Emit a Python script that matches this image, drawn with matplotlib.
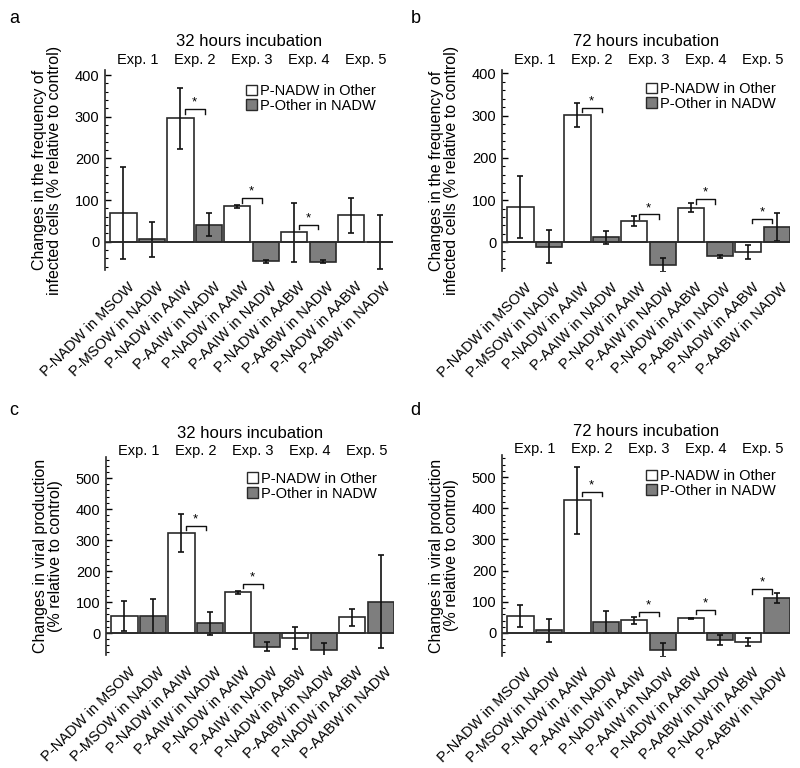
import numpy as np
import matplotlib
matplotlib.use("Agg")
import matplotlib.pyplot as plt
from matplotlib.patches import Patch

plt.rcParams["font.family"] = ["Liberation Sans", "DejaVu Sans"]

#DATA
labels = [
    "P-NADW in MSOW", "P-MSOW in NADW",
    "P-NADW in AAIW", "P-AAIW in NADW",
    "P-NADW in AAIW", "P-AAIW in NADW",
    "P-NADW in AABW", "P-AABW in NADW",
    "P-NADW in AABW", "P-AABW in NADW",
]
exp_labels = ["Exp. 1", "Exp. 2", "Exp. 3", "Exp. 4", "Exp. 5"]
legend_labels = ["P-NADW in Other", "P-Other in NADW"]

# a: infected cells, 32 h
cells_32h = [69, 6, 296, 41, 85, -47, 23, -48, 63, -1]
cells_32h_err = [111, 42, 73, 28, 3, 3, 71, 3, 43, 65]
cells_32h_sig = [(2, 318), (4, 104), (6, 41)]

# b: infected cells, 72 h
cells_72h = [84, -10, 302, 12, 50, -54, 82, -33, -23, 36]
cells_72h_err = [73, 40, 28, 15, 12, 17, 10, 3, 16, 34]
cells_72h_sig = [(2, 319), (4, 66), (6, 102), (8, 56)]

# c: viral production, 32 h
virus_32h = [55, 55, 322, 31, 132, -44, -17, -55, 51, 101]
virus_32h_err = [47, 54, 62, 37, 5, 14, 36, 22, 27, 150]
virus_32h_sig = [(2, 346), (4, 158)]

# d: viral production, 72 h
virus_72h = [55, 8, 426, 34, 41, -54, 47, -22, -29, 112]
virus_72h_err = [36, 38, 107, 35, 11, 22, 2, 17, 13, 17]
virus_72h_sig = [(2, 453), (4, 68), (6, 74), (8, 140)]

WHITE = "white"
GRAY = "#7e7e7e"
EDGE = "#2a2a2a"
SMALL = 10.5


#PLOTTING
def bar_panel(ax, values, errs, sig, title, ylabel, ylim, yticks,
              exp_y, title_pad, legend_anchor, letter_xy, letter, fig):
    x = np.arange(len(values))
    colors = [WHITE if i % 2 == 0 else GRAY for i in x]
    ax.bar(x, values, width=0.92, color=colors, edgecolor=EDGE, linewidth=1.2, zorder=2)
    ax.errorbar(x, values, yerr=errs, fmt="none", ecolor="#111111",
                elinewidth=1.2, capsize=2, capthick=1.2, zorder=3)

    ax.set_xlim(-0.65, 9.47)
    ax.set_ylim(*ylim)
    ax.axhline(0, color=EDGE, linewidth=1.2, zorder=4)

    # significance brackets
    for i, h in sig:
        x0, x1 = i + 0.15, i + 0.85
        leg = (ylim[1] - ylim[0]) * 0.022
        ax.plot([x0, x0, x1, x1], [h - leg, h, h, h - leg], color="#111111", lw=1.0, zorder=3)
        ax.text((x0 + x1) / 2, h + leg * 0.1, "*", ha="center", va="bottom", fontsize=9.5)

    # spines / ticks
    for s in ["top", "right", "bottom"]:
        ax.spines[s].set_visible(False)
    ax.spines["left"].set_color(EDGE)
    ax.spines["left"].set_linewidth(1.2)
    ax.set_yticks(yticks)
    ax.set_yticks(np.arange(-60, ylim[1], 20), minor=True)
    ax.tick_params(axis="y", direction="in", length=4, width=1.0, labelsize=SMALL, pad=4)
    ax.tick_params(axis="y", which="minor", direction="in", length=2, width=0.8)
    ax.set_xticks(x + 0.15)
    ax.set_xticklabels(labels, rotation=45, ha="right", rotation_mode="anchor", fontsize=SMALL)
    ax.tick_params(axis="x", length=0, pad=7)

    ax.set_ylabel(ylabel, fontsize=11.5, linespacing=1.0, labelpad=9)

    # experiment labels and title
    for k, lab in enumerate(exp_labels):
        ax.text(2 * k + 0.5, exp_y, lab, transform=ax.get_xaxis_transform(),
                ha="center", va="center", fontsize=SMALL)
    ax.set_title(title, fontsize=12, pad=title_pad)

    handles = [Patch(facecolor=WHITE, edgecolor=EDGE, lw=1.0),
               Patch(facecolor=GRAY, edgecolor=EDGE, lw=1.0)]
    ax.legend(handles, legend_labels, loc="upper right", bbox_to_anchor=legend_anchor,
              frameon=False, fontsize=SMALL, handlelength=0.75, handleheight=0.75,
              handletextpad=0.2, labelspacing=0.05, borderpad=0.2, borderaxespad=0)

    fig.text(letter_xy[0], letter_xy[1], letter, fontsize=13, ha="left", va="center")


fig = plt.figure(figsize=(8, 7.68), dpi=100)

cells_ylabel = "Changes in the frequency of\ninfected cells (% relative to control)"
virus_ylabel = "Changes in viral production\n(% relative to control)"

ax_a = fig.add_axes([0.13125, 0.6484, 0.36, 0.2604])
bar_panel(ax_a, cells_32h, cells_32h_err, cells_32h_sig, "32 hours incubation",
          cells_ylabel, (-68, 412), [0, 100, 200, 300, 400],
          1.05, 17, (0.95, 0.945), (0.012, 0.976), "a", fig)

ax_b = fig.add_axes([0.6275, 0.6471, 0.36, 0.2617])
bar_panel(ax_b, cells_72h, cells_72h_err, cells_72h_sig, "72 hours incubation",
          cells_ylabel, (-68, 408), [0, 100, 200, 300, 400],
          1.05, 17, (0.96, 0.955), (0.513, 0.976), "b", fig)

ax_c = fig.add_axes([0.1325, 0.1471, 0.36, 0.2578])
bar_panel(ax_c, virus_32h, virus_32h_err, virus_32h_sig, "32 hours incubation",
          virus_ylabel, (-71, 568), [0, 100, 200, 300, 400, 500],
          1.03, 14, (0.95, 0.94), (0.012, 0.466), "c", fig)

ax_d = fig.add_axes([0.6275, 0.1458, 0.36, 0.2617])
bar_panel(ax_d, virus_72h, virus_72h_err, virus_72h_sig, "72 hours incubation",
          virus_ylabel, (-74, 571), [0, 100, 200, 300, 400, 500],
          1.03, 14, (0.96, 0.945), (0.513, 0.466), "d", fig)

plt.savefig("out.png", dpi=100)
